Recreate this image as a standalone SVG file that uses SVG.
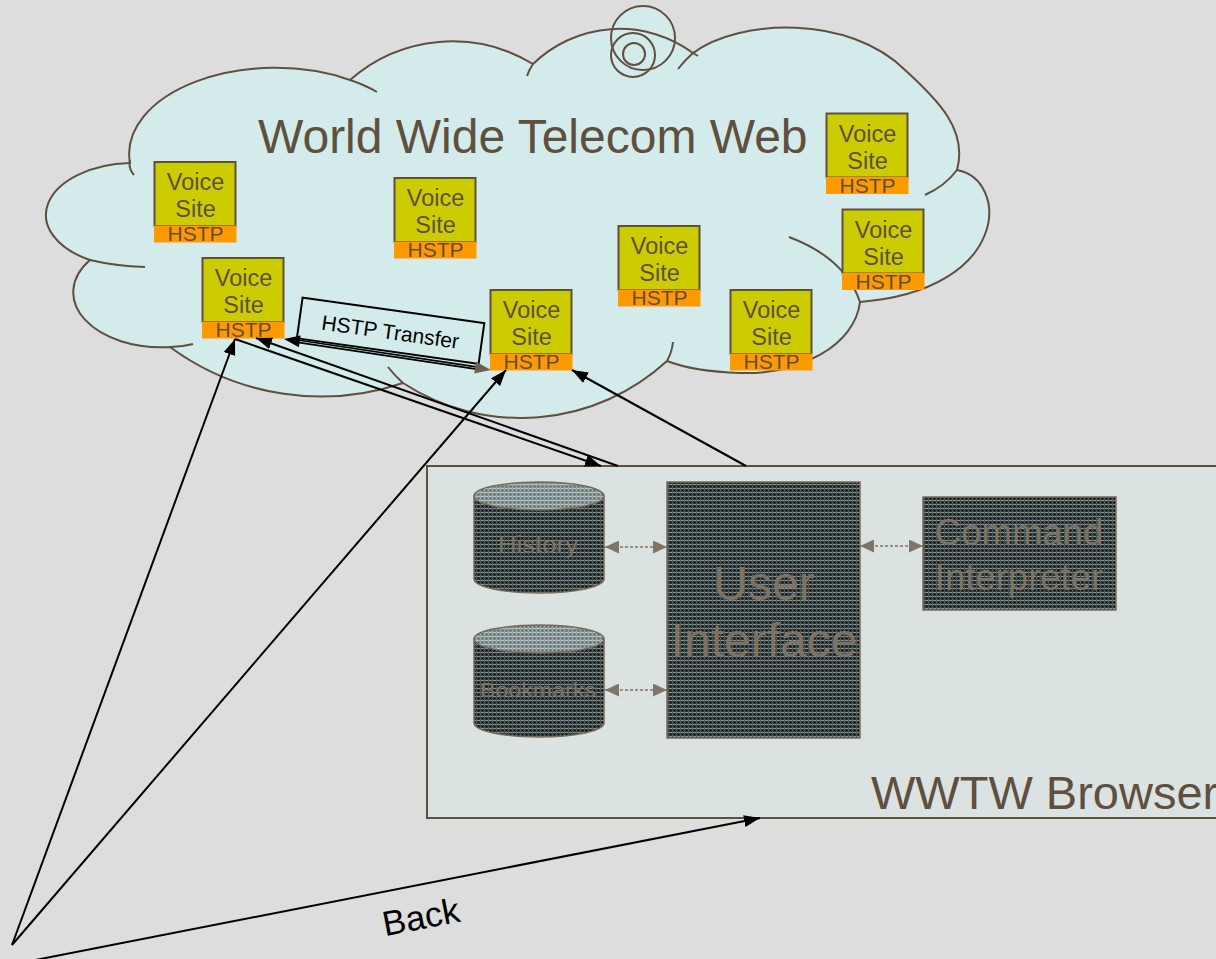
<svg xmlns="http://www.w3.org/2000/svg" width="1216" height="959" viewBox="0 0 1216 959">
  <defs>
    <style>
      .sans { font-family: "Liberation Sans", Arial, sans-serif; }
      .vs .body { fill: #CCCC00; stroke: #5F4F3F; stroke-width: 2; }
      .vs .bar { fill: #FF9900; }
      .vs text { fill: #5F4F3F; font-family: "Liberation Sans", Arial, sans-serif; text-anchor: middle; }
      .vs .n { font-size: 23.5px; }
      .vs .h { font-size: 21px; }
      .edge { stroke: #000; stroke-width: 2; fill: none; }
      .dash { stroke: #7F7567; stroke-width: 1.6; stroke-dasharray: 3 2; fill: none; }
      .comp { stroke: #7A6A5A; stroke-width: 1.5; }
      .comp-text { fill: #7E7262; font-family: "Liberation Sans", Arial, sans-serif; text-anchor: middle; }
    </style>
    <marker id="ah" markerUnits="userSpaceOnUse" markerWidth="16" markerHeight="12" refX="16" refY="6" orient="auto">
      <path d="M0,0 L16,6 L0,12 z" fill="#000"/>
    </marker>
    <marker id="gh" markerUnits="userSpaceOnUse" markerWidth="14" markerHeight="13" refX="14" refY="6.5" orient="auto-start-reverse">
      <path d="M0,0 L14,6.5 L0,13 z" fill="#7F7567"/>
    </marker>
    <pattern id="mesh" width="4" height="4" patternUnits="userSpaceOnUse">
      <rect width="4" height="4" fill="#2C3535"/>
      <rect width="4" height="1" fill="#7F9494"/>
      <rect width="1" height="4" fill="#4A5858"/>
      <rect x="2" y="2" width="1" height="1" fill="#000"/>
    </pattern>
    <pattern id="meshLight" width="4" height="4" patternUnits="userSpaceOnUse">
      <rect width="4" height="4" fill="#7E8C8C"/>
      <rect width="4" height="1" fill="#B3C3C3"/>
      <rect width="1" height="4" fill="#98A8A8"/>
      <rect x="2" y="2" width="1" height="1" fill="#4A5555"/>
    </pattern>
  </defs>

  <rect width="1216" height="959" fill="#DDDDDD"/>

  <!-- cloud: fill, spiral fill, outline, inner arcs, spiral strokes -->
  <g id="cloud">
    <path id="cloud-shape" fill="#D3ECEB" d="M130,163 A146,86 0 0 1 350,80 A155,155 0 0 1 533,64 A124,124 0 0 1 693,53 C740,18 850,15 905,70 C938,100 968,130 957,170 C1010,180 1010,290 860,302 C855,345 800,375 740,373 C710,372 685,368 667,361 A216,216 0 0 1 403,383 A255,255 0 0 1 170,347 A88,55 0 0 1 90,260 A88,52 0 0 1 130,163 Z"/>
    <circle cx="643" cy="38" r="32" fill="#D3ECEB"/>
    <use href="#cloud-shape" fill="none" stroke="#5F4F3F" stroke-width="2"/>
    <path fill="none" stroke="#5F4F3F" stroke-width="2" d="M130,160 Q128,168 134,175 M350,80 Q365,85 377,92 M527,76 Q529,70 533,64 M678,69 Q685,60 693,53 M693,53 L698,56 M957,170 Q945,186 925,195 M789,237 Q845,258 860,302 M673,342 Q672,352 667,361 M403,383 Q395,376 388,367 M170,347 Q182,347 193,344 M145,267 Q115,266 90,260"/>
    <g fill="none" stroke="#5F4F3F" stroke-width="2">
      <circle cx="643" cy="38" r="32"/>
      <circle cx="633" cy="55" r="22"/>
      <circle cx="634" cy="54" r="11"/>
    </g>
    <text class="sans" x="258" y="153" font-size="48" fill="#5F4F3F">World Wide Telecom Web</text>
  </g>

  <!-- browser -->
  <g id="browser">
    <rect x="427" y="466" width="820" height="352" fill="#DAE2E2" stroke="#5F4F3F" stroke-width="2"/>
    <text class="sans" x="871" y="809" font-size="47" fill="#5F4F3F">WWTW Browser</text>
  </g>

  <g id="history">
    <path class="comp" fill="url(#mesh)" d="M474,496 L474,579 A65,14 0 0 0 604,579 L604,496 Z"/>
    <ellipse class="comp" cx="539" cy="496" rx="65" ry="14" fill="url(#meshLight)"/>
    <text class="comp-text" x="538" y="553" font-size="23" textLength="80" lengthAdjust="spacingAndGlyphs">History</text>
  </g>

  <g id="bookmarks">
    <path class="comp" fill="url(#mesh)" d="M474,639 L474,723 A65,14 0 0 0 604,723 L604,639 Z"/>
    <ellipse class="comp" cx="539" cy="639" rx="65" ry="14" fill="url(#meshLight)"/>
    <text class="comp-text" x="538" y="697" font-size="21" textLength="116" lengthAdjust="spacingAndGlyphs">Bookmarks</text>
  </g>

  <g id="user-interface">
    <rect class="comp" x="667" y="482" width="193" height="256" fill="url(#mesh)"/>
    <text class="comp-text" x="764" y="600" font-size="48">User</text>
    <text class="comp-text" x="764" y="657" font-size="48">Interface</text>
  </g>

  <g id="command-interpreter">
    <rect class="comp" x="923" y="497" width="193" height="113" fill="url(#mesh)"/>
    <text class="comp-text" x="1019" y="545" font-size="36.5">Command</text>
    <text class="comp-text" x="1019" y="590" font-size="36.5">Interpreter</text>
  </g>

  <!-- voice sites -->
  <g id="vs1" class="vs" transform="translate(154.5,162)">
    <rect class="body" width="81" height="64"/><rect class="bar" x="-0.5" y="63.5" width="82.5" height="17"/>
    <text class="n" x="41" y="28">Voice</text><text class="n" x="41" y="55">Site</text><text class="h" x="41" y="79">HSTP</text>
  </g>
  <g id="vs2" class="vs" transform="translate(202.5,258)">
    <rect class="body" width="81" height="64"/><rect class="bar" x="-0.5" y="63.5" width="82.5" height="17"/>
    <text class="n" x="41" y="28">Voice</text><text class="n" x="41" y="55">Site</text><text class="h" x="41" y="79">HSTP</text>
  </g>
  <g id="vs3" class="vs" transform="translate(394.5,178)">
    <rect class="body" width="81" height="64"/><rect class="bar" x="-0.5" y="63.5" width="82.5" height="17"/>
    <text class="n" x="41" y="28">Voice</text><text class="n" x="41" y="55">Site</text><text class="h" x="41" y="79">HSTP</text>
  </g>
  <g id="vs4" class="vs" transform="translate(826.5,113.5)">
    <rect class="body" width="81" height="64"/><rect class="bar" x="-0.5" y="63.5" width="82.5" height="17"/>
    <text class="n" x="41" y="28">Voice</text><text class="n" x="41" y="55">Site</text><text class="h" x="41" y="79">HSTP</text>
  </g>
  <g id="vs5" class="vs" transform="translate(842.5,209.5)">
    <rect class="body" width="81" height="64"/><rect class="bar" x="-0.5" y="63.5" width="82.5" height="17"/>
    <text class="n" x="41" y="28">Voice</text><text class="n" x="41" y="55">Site</text><text class="h" x="41" y="79">HSTP</text>
  </g>
  <g id="vs6" class="vs" transform="translate(618.5,226)">
    <rect class="body" width="81" height="64"/><rect class="bar" x="-0.5" y="63.5" width="82.5" height="17"/>
    <text class="n" x="41" y="28">Voice</text><text class="n" x="41" y="55">Site</text><text class="h" x="41" y="79">HSTP</text>
  </g>
  <g id="vs7" class="vs" transform="translate(490.5,290)">
    <rect class="body" width="81" height="64"/><rect class="bar" x="-0.5" y="63.5" width="82.5" height="17"/>
    <text class="n" x="41" y="28">Voice</text><text class="n" x="41" y="55">Site</text><text class="h" x="41" y="79">HSTP</text>
  </g>
  <g id="vs8" class="vs" transform="translate(730.5,290)">
    <rect class="body" width="81" height="64"/><rect class="bar" x="-0.5" y="63.5" width="82.5" height="17"/>
    <text class="n" x="41" y="28">Voice</text><text class="n" x="41" y="55">Site</text><text class="h" x="41" y="79">HSTP</text>
  </g>

  <!-- transfer label -->
  <g id="hstp-transfer" transform="translate(390.6,330.7) rotate(8)">
    <rect x="-91.75" y="-20.5" width="183.5" height="41" fill="none" stroke="#000" stroke-width="2"/>
    <text class="sans" x="0" y="8.5" font-size="21" text-anchor="middle" fill="#000">HSTP Transfer</text>
  </g>

  <!-- connectors -->
  <g id="connectors">
    <line class="edge" x1="12" y1="945" x2="235" y2="339" marker-end="url(#ah)"/>
    <line class="edge" x1="12" y1="945" x2="506" y2="370" marker-end="url(#ah)"/>
    <line class="edge" x1="20" y1="963" x2="760" y2="818" marker-end="url(#ah)"/>
    <line class="edge" x1="618" y1="466" x2="256" y2="338" marker-end="url(#ah)"/>
    <line class="edge" x1="235" y1="339" x2="601" y2="466" marker-end="url(#ah)"/>
    <line class="edge" x1="746" y1="466" x2="572" y2="370" marker-end="url(#ah)"/>
    <line stroke="#000" stroke-width="1.6" x1="296" y1="339.7" x2="478" y2="367.1"/>
    <line stroke="#000" stroke-width="1.6" x1="296" y1="342.1" x2="478" y2="369.4"/>
    <path d="M284,339 L298.9,347.3 L300.7,335.5 Z" fill="#000"/>
    <path d="M491,370 L474.3,373.5 L476.1,361.7 Z" fill="#6E6050"/>
    <line class="dash" x1="605" y1="547" x2="667" y2="547" marker-start="url(#gh)" marker-end="url(#gh)"/>
    <line class="dash" x1="605" y1="690" x2="667" y2="690" marker-start="url(#gh)" marker-end="url(#gh)"/>
    <line class="dash" x1="860" y1="546" x2="923" y2="546" marker-start="url(#gh)" marker-end="url(#gh)"/>
  </g>

  <text class="sans" x="421" y="929" font-size="35" text-anchor="middle" fill="#000" transform="rotate(-11 421 917)">Back</text>
</svg>
